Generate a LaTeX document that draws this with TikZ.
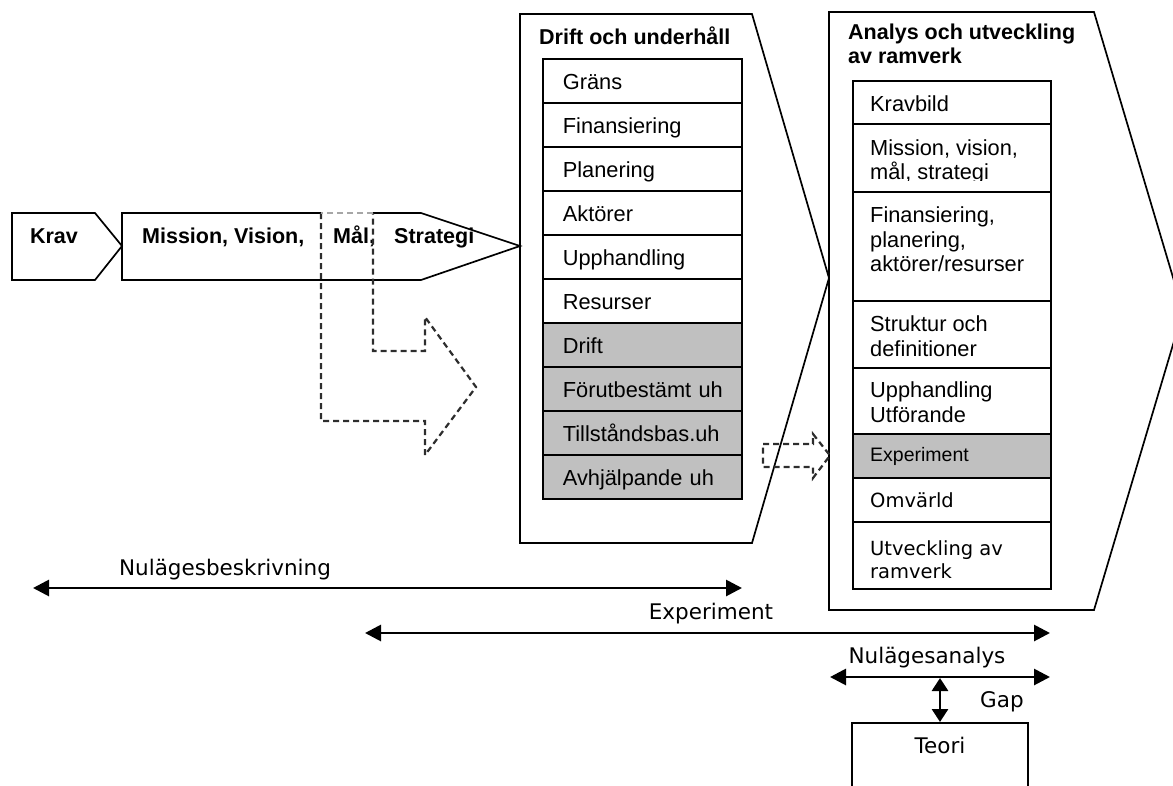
\documentclass[tikz,border=0pt]{standalone}
\usepackage{fontspec}
\setmainfont{Liberation Sans}
\newfontfamily\dejavu{DejaVu Sans}
\usetikzlibrary{arrows.meta}
\definecolor{rowgray}{RGB}{192,192,192}
\definecolor{dashgray}{RGB}{45,45,45}

\begin{document}
\begin{tikzpicture}[x=1pt,y=-1pt,
  outline/.style={draw=black,line width=1.7pt,line join=miter},
  dashedshape/.style={draw=dashgray,line width=2.2pt,dash pattern=on 6pt off 4pt},
  heading/.style={font=\bfseries\fontsize{21.5}{24}\selectfont,inner sep=0pt,anchor=base west},
  mrow/.style={draw=black,line width=1.7pt,fill=white,anchor=north west,
    minimum height=44pt,text width=165pt,inner xsep=17pt,inner ysep=0pt,
    align=left,text height=20pt,text depth=2pt,font=\fontsize{21.8}{24}\selectfont},
  grayrow/.style={fill=rowgray},
  rrow/.style={draw=black,line width=1.7pt,fill=white,anchor=north west,
    minimum width=198pt,inner sep=0pt},
  rtxt/.style={anchor=base west,inner sep=0pt,font=\fontsize{21.8}{24}\selectfont},
  rtxtsmall/.style={anchor=base west,inner sep=0pt,font=\fontsize{19.5}{22}\selectfont},
  rtxtdv/.style={anchor=base west,inner sep=0pt,font=\dejavu\fontsize{19.5}{22}\selectfont},
  label/.style={anchor=base,inner sep=0pt,font=\dejavu\fontsize{21.5}{24}\selectfont},
  spanarrow/.style={line width=2.8pt,
    {Triangle[length=16pt,width=16pt]}-{Triangle[length=16pt,width=16pt]}},
  gaparrow/.style={line width=2.8pt,
    {Triangle[length=13pt,width=16pt]}-{Triangle[length=13pt,width=16pt]}}
]
\useasboundingbox (0,0) rectangle (1173,785);
\clip (0,0) rectangle (1173,785);

% chevrons along the top
\draw[outline] (12,213) -- (95,213) -- (122,246) -- (95,280) -- (12,280) -- cycle;
\draw[outline] (122,213) -- (421,213) -- (520,246) -- (421,280) -- (122,280) -- cycle;
\node[heading,anchor=base] (krav) at (54,243) {Krav};
\node[heading] (mission) at (142,243) {Mission, Vision,};
\node[heading] (mal) at (333,243) {Mål,};
\node[heading] (strategi) at (394,243) {Strategi};

% Drift och underhall panel
\draw[outline] (520,14) -- (752,14) -- (829,278) -- (752,543) -- (520,543) -- cycle;
\node[heading] (drifttitle) at (539,44) {Drift och underhåll};
\node[mrow] (m1) at (542,58) {\hspace*{3pt}Gräns};
\node[mrow] (m2) at (542,102) {\hspace*{3pt}Finansiering};
\node[mrow] (m3) at (542,146) {\hspace*{3pt}Planering};
\node[mrow] (m4) at (542,190) {\hspace*{3pt}Aktörer};
\node[mrow] (m5) at (542,234) {\hspace*{3pt}Upphandling};
\node[mrow] (m6) at (542,278) {\hspace*{3pt}Resurser};
\node[mrow,grayrow] (m7) at (542,322) {\hspace*{3pt}Drift};
\node[mrow,grayrow] (m8) at (542,366) {\hspace*{3pt}Förutbestämt uh};
\node[mrow,grayrow] (m9) at (542,410) {\hspace*{3pt}Tillståndsbas.uh};
\node[mrow,grayrow] (m10) at (542,454) {\hspace*{3pt}Avhjälpande uh};

% Analys och utveckling panel
\draw[outline] (829,12) -- (1094,12) -- (1183,311) -- (1094,610) -- (829,610) -- cycle;
\node[heading] (antitle1) at (848,39) {Analys och utveckling};
\node[heading] (antitle2) at (848,63) {av ramverk};
\node[rrow,minimum height=43pt] (r1) at (852,80) {};
\node[rrow,minimum height=68pt] (r2) at (852,123) {};
\node[rrow,minimum height=109pt] (r3) at (852,191) {};
\node[rrow,minimum height=67pt] (r4) at (852,300) {};
\node[rrow,minimum height=66pt] (r5) at (852,367) {};
\node[rrow,minimum height=44pt,fill=rowgray] (r6) at (852,433) {};
\node[rrow,minimum height=44pt] (r7) at (852,477) {};
\node[rrow,minimum height=67pt] (r8) at (852,521) {};
\node[rtxt] (t1) at (870,111) {Kravbild};
\node[rtxt] (t2a) at (870,155) {Mission, vision,};
\begin{scope}
  \clip (852,150) rectangle (1050,180.5);
  \node[rtxt] (t2b) at (870,179) {mål, strategi};
\end{scope}
\node[rtxt] (t3a) at (870,222) {Finansiering,};
\node[rtxt] (t3b) at (870,247) {planering,};
\node[rtxt] (t3c) at (870,271) {aktörer/resurser};
\node[rtxt] (t4a) at (870,331) {Struktur och};
\node[rtxt] (t4b) at (870,356) {definitioner};
\node[rtxt] (t5a) at (870,397) {Upphandling};
\node[rtxt] (t5b) at (870,422) {Utförande};
\node[rtxtsmall] (t6) at (870,461) {Experiment};
\node[rtxtdv] (t7) at (870,507) {Omvärld};
\node[rtxtdv] (t8a) at (870,555) {Utveckling av};
\node[rtxtdv] (t8b) at (870,578) {ramverk};

% dashed hand-over arrows
\draw[white,line width=2.6pt] (373,213) -- (321,213);
\draw[dashedshape] (321,213) -- (321,421) -- (425,421) -- (425,455) -- (476,387)
  -- (425,317) -- (425,351) -- (373,351) -- (373,213);
\draw[dashedshape,draw=gray!70] (373,213) -- (321,213);
\draw[dashedshape] (763,444) -- (813,444) -- (813,434) -- (830,455.5) -- (813,478)
  -- (813,467) -- (763,467) -- cycle;

% time spans
\coordinate (nbL) at (33,588);
\coordinate (nbR) at (742,588);
\draw[spanarrow] (nbL) -- (nbR);
\node[label] (nulbeskr) at (225,575) {Nulägesbeskrivning};

\coordinate (exL) at (365,633);
\coordinate (exR) at (1050,633);
\draw[spanarrow] (exL) -- (exR);
\node[label] (experiment) at (711,619) {Experiment};

\coordinate (naL) at (830,677);
\coordinate (naR) at (1050,677);
\draw[spanarrow] (naL) -- (naR);
\node[label] (nulanalys) at (927,663) {Nulägesanalys};

% theory box and gap
\node[draw=black,line width=1.7pt,minimum width=176pt,minimum height=90pt,
  inner sep=0pt,anchor=north] (teoribox) at (940,722) {};
\node[label] (teori) at (940,753) {Teori};
\coordinate (gaptop) at (940,678);
\draw[gaparrow] (gaptop) -- (teoribox.north);
\node[label,anchor=base west] (gap) at (980,707) {Gap};
\end{tikzpicture}
\end{document}
